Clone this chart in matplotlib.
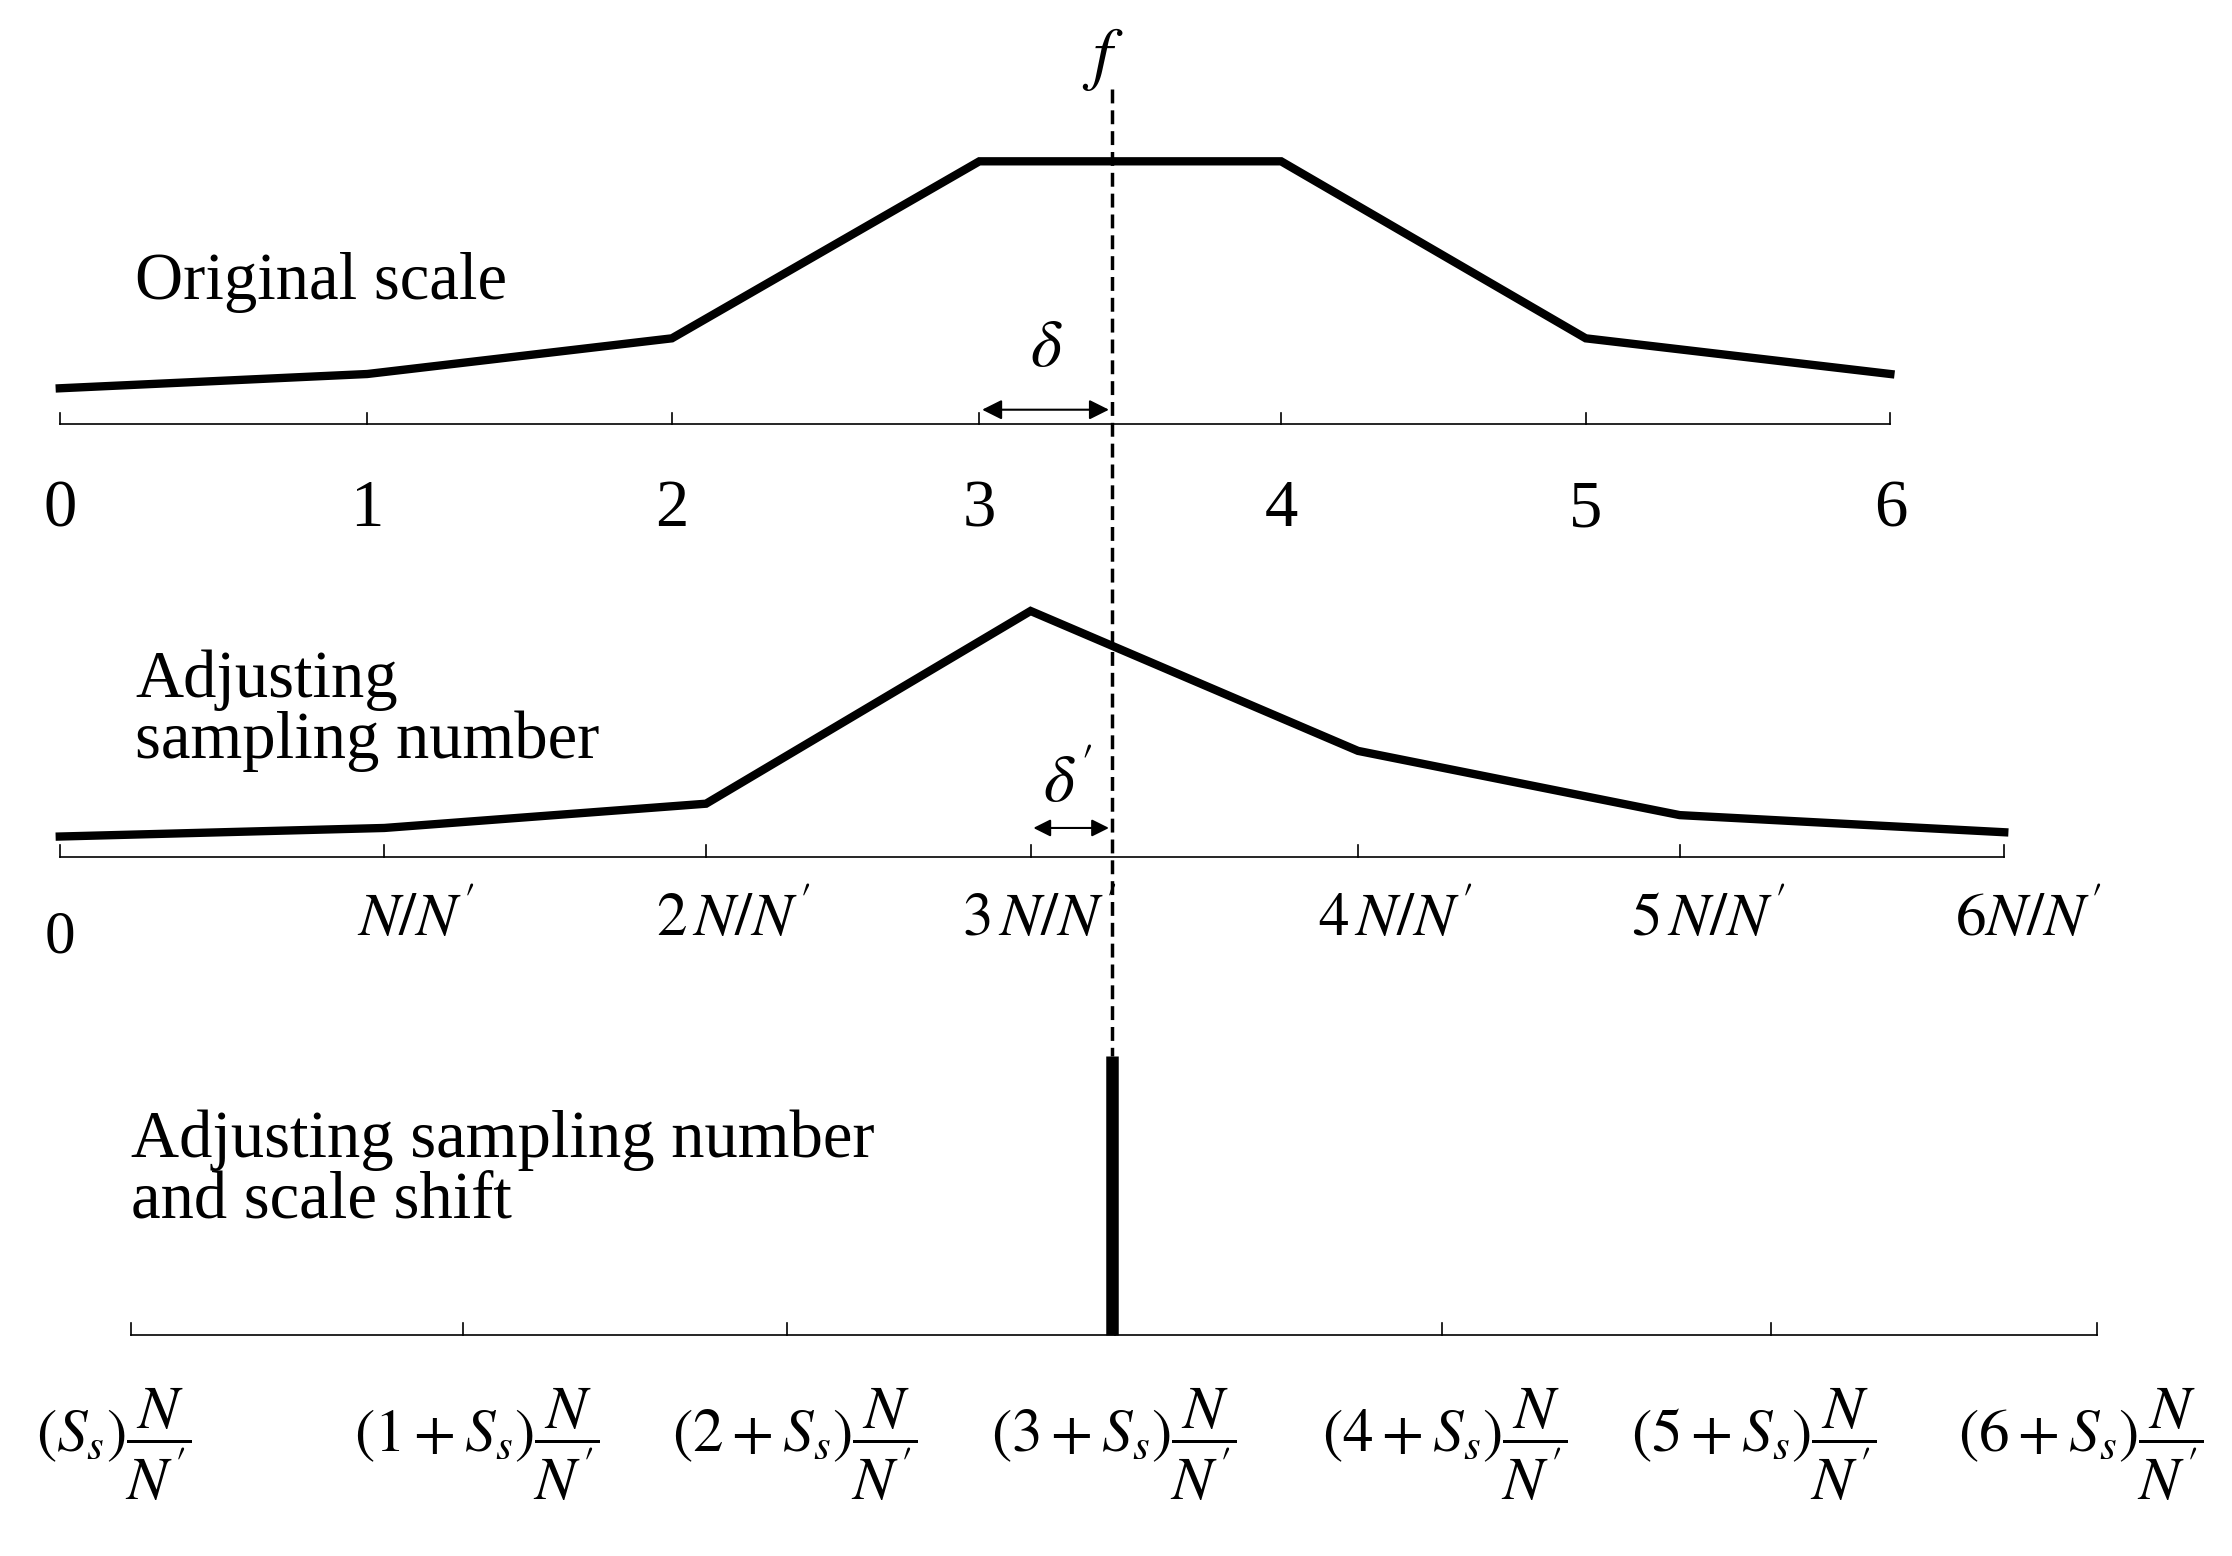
import matplotlib
matplotlib.use("Agg")
import matplotlib.pyplot as plt

plt.rcParams["font.family"] = ["Liberation Serif", "DejaVu Serif"]
plt.rcParams["mathtext.fontset"] = "stix"

# layout space: reference pixel units (1568 x 1090), y downwards
top_x = [42, 258, 472, 688, 900, 1114, 1328]
top_y = [272, 262, 237, 113, 113, 237, 262]
top_axis = 297
top_labels = ["0", "1", "2", "3", "4", "5", "6"]

mid_x = [42, 270, 496, 724, 954, 1180, 1408]
mid_y = [586, 580, 563, 428, 526, 571, 583]
mid_axis = 600
mid_labels = ["0", r"$N/N'$", r"$2\,N/N'$", r"$3\,N/N'$", r"$4\,N/N'$", r"$5\,N/N'$", r"$6N/N'$"]
mid_label_x = [42, 292, 515, 730, 980, 1200, 1425]

bot_x = [92, 325, 553, 783, 1013, 1244, 1473]
bot_axis = 935
bot_labels = [r"$(S_s)\dfrac{N}{N'}$"] + [r"$(%d+S_s)\dfrac{N}{N'}$" % i for i in range(1, 7)]
bot_label_x = [80, 335, 558, 782, 1015, 1232, 1462]
peak_x = 781
peak_top = 740

fig = plt.figure(figsize=(22.32, 15.56), dpi=100)
ax = fig.add_axes([0, 0, 1, 1])
ax.set_xlim(0, 1568)
ax.set_ylim(1090, 0)
ax.axis("off")

lw_c = 6
fs = 48

def axis_line(xs, y):
    ax.plot([xs[0], xs[-1]], [y, y], color="black", lw=1.2)
    for x in xs:
        ax.plot([x, x], [y, y - 8], color="black", lw=1.2)

# top
ax.plot(top_x, top_y, color="black", lw=lw_c, solid_joinstyle="miter")
axis_line(top_x, top_axis)
for x, s in zip(top_x, top_labels):
    ax.text(x, 357, s, fontsize=fs, ha="center", va="center")
ax.text(95, 198, "Original scale", fontsize=fs, ha="left", va="center")

# middle
ax.plot(mid_x, mid_y, color="black", lw=lw_c, solid_joinstyle="miter")
axis_line(mid_x, mid_axis)
for x, s in zip(mid_label_x, mid_labels):
    ax.text(x, 645 if x > 42 else 657, s, fontsize=fs - 4, ha="center", va="center")
ax.text(95, 498, "Adjusting\nsampling number", fontsize=fs, ha="left", va="center",
        linespacing=1.0)

# bottom
axis_line(bot_x, bot_axis)
ax.plot([peak_x, peak_x], [peak_top, bot_axis], color="black", lw=9, solid_capstyle="butt")
for x, s in zip(bot_label_x, bot_labels):
    ax.text(x, 1012, s, fontsize=fs - 4, ha="center", va="center")
ax.text(92, 820, "Adjusting sampling number\nand scale shift", fontsize=fs, ha="left",
        va="center", linespacing=1.0)

# dashed f line
ax.plot([peak_x, peak_x], [62, peak_top], color="black", lw=2.5, ls=(0, (4, 2)))
ax.text(775, 42, r"$f$", fontsize=fs + 2, ha="center", va="center")

# delta arrows
ax.annotate("", xy=(688, 287), xytext=(peak_x, 287),
            arrowprops=dict(arrowstyle="<|-|>", color="black", lw=1.5, mutation_scale=30))
ax.text(735, 245, r"$\delta$", fontsize=fs, ha="center", va="center")
ax.annotate("", xy=(724, 580), xytext=(peak_x, 580),
            arrowprops=dict(arrowstyle="<|-|>", color="black", lw=1.5, mutation_scale=26))
ax.text(750, 550, r"$\delta'$", fontsize=fs, ha="center", va="center")

fig.savefig("out.png", dpi=100)
